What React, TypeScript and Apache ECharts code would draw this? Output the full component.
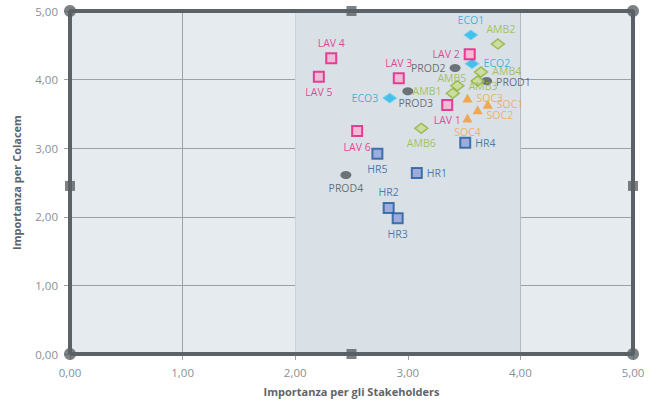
import React, { useEffect, useRef } from "react";
import * as echarts from "echarts";

// ---- data ----
const lavNames = ["LAV 1", "LAV 2", "LAV 3", "LAV 4", "LAV 5", "LAV 6"];
const lavX = [3.35, 3.55, 2.92, 2.32, 2.21, 2.55];
const lavY = [3.63, 4.37, 4.02, 4.31, 4.04, 3.25];

const hrNames = ["HR1", "HR2", "HR3", "HR4", "HR5"];
const hrX = [3.08, 2.83, 2.91, 3.51, 2.73];
const hrY = [2.64, 2.13, 1.98, 3.08, 2.92];

const ambNames = ["AMB1", "AMB2", "AMB3", "AMB4", "AMB5", "AMB6"];
const ambX = [3.4, 3.8, 3.44, 3.65, 3.62, 3.12];
const ambY = [3.8, 4.52, 3.91, 4.11, 3.98, 3.29];

const ecoNames = ["ECO1", "ECO2", "ECO3"];
const ecoX = [3.56, 3.57, 2.84];
const ecoY = [4.65, 4.23, 3.73];

const socNames = ["SOC1", "SOC2", "SOC3", "SOC4"];
const socX = [3.71, 3.62, 3.53, 3.53];
const socY = [3.64, 3.56, 3.73, 3.44];

const prodNames = ["PROD1", "PROD2", "PROD3", "PROD4"];
const prodX = [3.7, 3.42, 3.0, 2.45];
const prodY = [3.98, 4.17, 3.83, 2.61];

const axisTicks = [0, 1, 2, 3, 4, 5];
const bandRange = [2, 4];
const frameCorners = [
  [0, 0],
  [0, 5],
  [5, 0],
  [5, 5],
];
const frameMids = [
  [2.5, 0],
  [2.5, 5],
  [0, 2.45],
  [5, 2.45],
];

// label placement (style)
const labelPlace: Record<string, { position: string; offset?: number[] }> = {
  "LAV 1": { position: "bottom" },
  "LAV 2": { position: "left" },
  "LAV 3": { position: "top" },
  "LAV 4": { position: "top" },
  "LAV 5": { position: "bottom" },
  "LAV 6": { position: "bottom" },
  HR1: { position: "right" },
  HR2: { position: "top" },
  HR3: { position: "bottom" },
  HR4: { position: "right" },
  HR5: { position: "bottom" },
  AMB1: { position: "left", offset: [0, -2] },
  AMB2: { position: "top", offset: [3, 0] },
  AMB3: { position: "right" },
  AMB4: { position: "right", offset: [0, -1] },
  AMB5: { position: "left", offset: [0, -3] },
  AMB6: { position: "bottom" },
  ECO1: { position: "top" },
  ECO2: { position: "right", offset: [0, -1] },
  ECO3: { position: "left" },
  SOC1: { position: "right" },
  SOC2: { position: "right", offset: [0, 5] },
  SOC3: { position: "right" },
  SOC4: { position: "bottom" },
  PROD1: { position: "right", offset: [0, 1] },
  PROD2: { position: "left" },
  PROD3: { position: "bottom", offset: [8, -2] },
  PROD4: { position: "bottom" },
};

const FONT = "'Open Sans', 'Noto Sans', sans-serif";

function build(names: string[], xs: number[], ys: number[], color: string) {
  return names.map((n, i) => {
    const p = labelPlace[n] || { position: "top" };
    return {
      name: n,
      value: [xs[i], ys[i]],
      label: {
        show: true,
        position: p.position,
        offset: p.offset,
        formatter: "{b}",
        color,
        fontSize: 10.5,
        fontFamily: FONT,
        distance: 4,
      },
    };
  });
}

const fmt = (v: number) => v.toFixed(2).replace(".", ",");

export default function App() {
  const ref = useRef<HTMLDivElement>(null);
  useEffect(() => {
    if (!ref.current) return;
    const chart = echarts.init(ref.current, null, { renderer: "svg" });
    const frameColor = "#5a6167";
    const option: any = {
      animation: false,
      textStyle: { fontFamily: FONT },
      grid: {
        left: 70,
        right: 24,
        top: 11,
        bottom: 49,
        show: true,
        backgroundColor: "#e5ebef",
        borderColor: frameColor,
        borderWidth: 0,
      },
      xAxis: {
        type: "value",
        min: axisTicks[0],
        max: axisTicks[axisTicks.length - 1],
        interval: 1,
        name: "Importanza per gli Stakeholders",
        nameLocation: "middle",
        nameGap: 32,
        nameTextStyle: { color: "#5f6469", fontSize: 11, fontWeight: "bold", fontFamily: FONT },
        axisLine: { show: false },
        axisTick: { show: true, length: 6, lineStyle: { color: "#9ba1a6" } },
        axisLabel: { formatter: fmt, color: "#8a8f94", fontSize: 11.5, margin: 12, fontFamily: FONT },
        splitLine: { show: true, lineStyle: { color: "#9ba1a6", width: 1 } },
      },
      yAxis: {
        type: "value",
        min: axisTicks[0],
        max: axisTicks[axisTicks.length - 1],
        interval: 1,
        name: "Importanza per Colacem",
        nameLocation: "middle",
        nameGap: 48,
        nameTextStyle: { color: "#5f6469", fontSize: 11, fontWeight: "bold", fontFamily: FONT },
        axisLine: { show: false },
        axisTick: { show: true, length: 6, lineStyle: { color: "#9ba1a6" } },
        axisLabel: { formatter: fmt, color: "#8a8f94", fontSize: 11.5, margin: 12, fontFamily: FONT },
        splitLine: { show: true, lineStyle: { color: "#9ba1a6", width: 1 } },
      },
      series: [
        {
          type: "line",
          name: "frame",
          data: [
            [0, 0],
            [0, 5],
            [5, 5],
            [5, 0],
            [0, 0],
          ],
          symbol: "none",
          lineStyle: { color: frameColor, width: 4 },
          z: 5,
          silent: true,
          markArea: {
            silent: true,
            itemStyle: { color: "#d9e0e6" },
            data: [[{ xAxis: bandRange[0] }, { xAxis: bandRange[1] }]],
          },
        },
        {
          type: "scatter",
          name: "corners",
          symbol: "circle",
          symbolSize: 12,
          data: frameCorners,
          itemStyle: { color: frameColor },
          clip: false,
          z: 6,
          silent: true,
        },
        {
          type: "scatter",
          name: "mids",
          symbol: "rect",
          symbolSize: 10,
          data: frameMids,
          itemStyle: { color: frameColor },
          clip: false,
          z: 6,
          silent: true,
        },
        {
          type: "scatter",
          name: "PROD",
          symbol: "circle",
          symbolSize: [11, 8],
          data: build(prodNames, prodX, prodY, "#4a4f54"),
          itemStyle: { color: "#50565c" },
          z: 7,
        },
        {
          type: "scatter",
          name: "SOC",
          symbol: "triangle",
          symbolSize: [10, 9],
          data: build(socNames, socX, socY, "#f2a443"),
          itemStyle: { color: "#f29a2e" },
          z: 7,
        },
        {
          type: "scatter",
          name: "AMB",
          symbol: "diamond",
          symbolSize: [13, 10],
          data: build(ambNames, ambX, ambY, "#95b83c"),
          itemStyle: { color: "#c9dc8e", borderColor: "#8db33a", borderWidth: 1.5 },
          z: 7,
        },
        {
          type: "scatter",
          name: "ECO",
          symbol: "diamond",
          symbolSize: [14, 10],
          data: build(ecoNames, ecoX, ecoY, "#1aa5d6"),
          itemStyle: { color: "#1fb8e8", borderColor: "#7fd6f2", borderWidth: 1 },
          z: 7,
        },
        {
          type: "scatter",
          name: "LAV",
          symbol: "rect",
          symbolSize: 10,
          data: build(lavNames, lavX, lavY, "#e3197f"),
          itemStyle: { color: "#f4b2d2", borderColor: "#e3197f", borderWidth: 2 },
          z: 7,
        },
        {
          type: "scatter",
          name: "HR",
          symbol: "rect",
          symbolSize: 10,
          data: build(hrNames, hrX, hrY, "#1f5e9f"),
          itemStyle: { color: "#8f9fdb", borderColor: "#1d5a9c", borderWidth: 2 },
          z: 7,
        },
      ],
    };
    chart.setOption(option);
    return () => chart.dispose();
  }, []);
  return <div ref={ref} style={{ width: 657, height: 403, position: "absolute", left: 0, top: 0 }} />;
}
